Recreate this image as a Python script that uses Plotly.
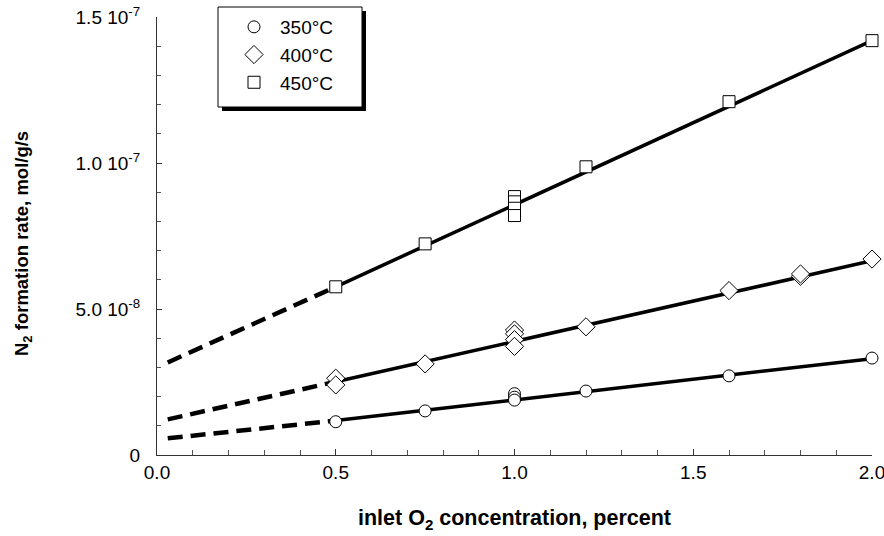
import plotly.graph_objects as go

# ---- data ----
x350 = [0.5, 0.75, 1.0, 1.0, 1.0, 1.2, 1.6, 2.0]
y350 = [1.14e-8, 1.51e-8, 2.10e-8, 1.98e-8, 1.88e-8, 2.19e-8, 2.71e-8, 3.32e-8]

x400 = [0.5, 0.5, 0.75, 1.0, 1.0, 1.0, 1.0, 1.2, 1.6, 1.8, 1.8, 2.0]
y400 = [2.63e-8, 2.40e-8, 3.12e-8, 4.28e-8, 4.15e-8, 3.95e-8, 3.72e-8,
        4.39e-8, 5.63e-8, 6.12e-8, 6.20e-8, 6.71e-8]

x450 = [0.5, 0.75, 1.0, 1.0, 1.0, 1.0, 1.2, 1.6, 2.0]
y450 = [5.76e-8, 7.23e-8, 8.85e-8, 8.67e-8, 8.45e-8, 8.20e-8, 9.87e-8, 1.21e-7, 1.419e-7]

# fitted lines (solid) and extrapolations (dashed)
fit_x = [0.5, 2.0]
fit350 = [1.18e-8, 3.30e-8]
fit400 = [2.51e-8, 6.65e-8]
fit450 = [5.76e-8, 1.419e-7]

ext_x = [0.03, 0.5]
ext350 = [0.57e-8, 1.18e-8]
ext400 = [1.22e-8, 2.51e-8]
ext450 = [3.17e-8, 5.76e-8]

names = ["350°C", "400°C", "450°C"]

y_tickvals = [0, 5e-8, 1e-7, 1.5e-7]
y_ticktext = ["0", "5.0 10<sup>-8</sup>", "1.0 10<sup>-7</sup>", "1.5 10<sup>-7</sup>"]
x_tickvals = [0.0, 0.5, 1.0, 1.5, 2.0]
x_ticktext = ["0.0", "0.5", "1.0", "1.5", "2.0"]

FONT = "Liberation Sans, Arial, sans-serif"

fig = go.Figure()

for ey, fy in [(ext350, fit350), (ext400, fit400), (ext450, fit450)]:
    fig.add_trace(go.Scatter(x=ext_x, y=ey, mode="lines", showlegend=False,
                             line=dict(color="black", width=4.5, dash="15px,8px"),
                             hoverinfo="skip"))
    fig.add_trace(go.Scatter(x=fit_x, y=fy, mode="lines", showlegend=False,
                             line=dict(color="black", width=3.5),
                             hoverinfo="skip"))

for xs, ys, nm, sym, sz in [(x350, y350, names[0], "circle", 12),
                            (x400, y400, names[1], "diamond", 14),
                            (x450, y450, names[2], "square", 12)]:
    fig.add_trace(go.Scatter(x=xs, y=ys, mode="markers", name=nm, cliponaxis=False,
                             marker=dict(symbol=sym, size=sz, color="white",
                                         line=dict(color="black", width=1))))

W, H = 884, 536
L, R, T, B = 157, 12, 17, 81
pw, ph = W - L - R, H - T - B

def px2paper_x(px):
    return (px - L) / pw

def px2paper_y(py):
    return (H - B - py) / ph

# legend box (pixels)
lg_left, lg_top, lg_w, lg_h = 218, 7, 144, 100
sh = 4
fig.add_shape(type="rect", xref="paper", yref="paper", layer="above",
              x0=px2paper_x(lg_left + sh), x1=px2paper_x(lg_left + lg_w + sh),
              y0=px2paper_y(lg_top + lg_h + sh), y1=px2paper_y(lg_top + sh),
              fillcolor="black", line=dict(width=0))
fig.add_shape(type="rect", xref="paper", yref="paper", layer="above",
              x0=px2paper_x(lg_left), x1=px2paper_x(lg_left + lg_w),
              y0=px2paper_y(lg_top + lg_h), y1=px2paper_y(lg_top),
              fillcolor="white", line=dict(color="black", width=1))

fig.update_layout(
    width=W, height=H,
    margin=dict(l=L, r=R, t=T, b=B, autoexpand=False),
    paper_bgcolor="white", plot_bgcolor="white",
    font=dict(family=FONT, size=18, color="black"),
    showlegend=True,
    legend=dict(x=px2paper_x(228), y=px2paper_y(8), xanchor="left", yanchor="top",
                bgcolor="rgba(0,0,0,0)", borderwidth=0, itemwidth=42,
                font=dict(size=19, family=FONT)),
    xaxis=dict(range=[0, 2.0], tickvals=x_tickvals, ticktext=x_ticktext, automargin=False,
               showgrid=False, zeroline=False, showline=True, linecolor="#333", linewidth=1,
               ticks="inside", ticklen=6, tickcolor="#333", ticklabeloverflow="allow",
               minor=dict(dtick=0.1, ticks="inside", ticklen=5, tickcolor="#555", showgrid=False),
               tickfont=dict(size=19), ticklabelstandoff=0),
    yaxis=dict(range=[0, 1.5e-7], tickvals=y_tickvals, ticktext=y_ticktext, automargin=False,
               showgrid=False, zeroline=False, showline=True, linecolor="#333", linewidth=1,
               ticks="inside", ticklen=5, tickcolor="#333", ticklabeloverflow="allow",
               minor=dict(dtick=1e-8, ticks="inside", ticklen=4, tickcolor="#555", showgrid=False),
               tickfont=dict(size=19), ticklabelstandoff=12),
    annotations=[
        dict(text="inlet O<sub>2</sub> concentration, percent", xref="paper", yref="paper",
             x=0.5, y=px2paper_y(519), xanchor="center", yanchor="middle", showarrow=False,
             font=dict(size=21.5, family=FONT, weight="bold")),
        dict(text="N<sub>2</sub> formation rate, mol/g/s", xref="paper", yref="paper",
             x=px2paper_x(23), y=px2paper_y(244), xanchor="center", yanchor="middle",
             textangle=-90, showarrow=False,
             font=dict(size=18.5, family=FONT, weight="bold")),
    ],
)

fig.write_html("out.html")
